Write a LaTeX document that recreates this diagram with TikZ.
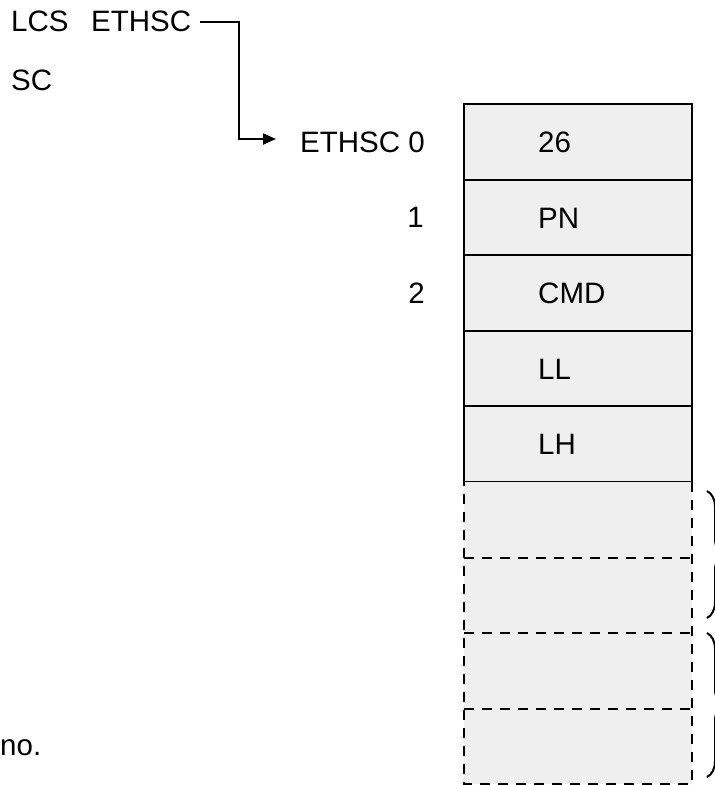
\documentclass[tikz,border=0pt]{standalone}
\usepackage{fontspec}
\setmainfont{Liberation Sans}
\usetikzlibrary{arrows.meta,decorations.pathreplacing}
\definecolor{cellfill}{HTML}{EFEFEF}
\begin{document}
\begin{tikzpicture}[x=1pt,y=-1pt,
  lbl/.style={font=\fontsize{29.5}{34}\selectfont, inner sep=0pt},
  cell/.style={fill=cellfill, draw=black, line width=2pt},
  dcell/.style={draw=black, line width=2pt, dash pattern=on 10pt off 8pt},
  conn/.style={draw=black, line width=2pt, -{Triangle[length=13pt,width=11pt]}},
  brc/.style={draw=black, line width=2pt, decorate, decoration={brace, amplitude=16pt}}]
\useasboundingbox (0,0) rectangle (715,785);
% solid cells
\foreach \t/\b in {104/180,180/255,255/331,331/406,406/482}{
  \draw[cell] (464,\t) rectangle (692,\b);
}
% dashed cells
\fill[cellfill] (464,482) rectangle (692,784);
\draw[dcell] (692,482) -- (692,784) -- (464,784) -- (464,482);
\foreach \y in {558,633,709}{
  \draw[dcell] (464,\y) -- (692,\y);
}
% box labels
\node[lbl,anchor=base west] (v26) at (538,152) {26};
\node[lbl,anchor=base west] (vpn) at (538,228) {PN};
\node[lbl,anchor=base west] (vcmd) at (538,303) {CMD};
\node[lbl,anchor=base west] (vll) at (538,379) {LL};
\node[lbl,anchor=base west] (vlh) at (538,454) {LH};
% left labels
\node[lbl,anchor=base west] (lcs) at (11,31) {LCS};
\node[lbl,anchor=base west] (etop) at (91,31) {ETHSC};
\node[lbl,anchor=base west] (sc) at (11,90) {SC};
\node[lbl,anchor=base east] (e0) at (425,152) {ETHSC 0};
\node[lbl,anchor=base east] (i1) at (424,227) {1};
\node[lbl,anchor=base east] (i2) at (425,303) {2};
\node[lbl,anchor=base west] (no) at (0,755) {no.};
% connector
\coordinate (cstart) at (200,22);
\coordinate (ctip) at (276,139);
\draw[conn] (cstart) -- (239,22) |- (ctip);
% braces
\draw[brc] (707,491) -- (707,618);
\draw[brc] (707,633) -- (707,777);
\end{tikzpicture}
\end{document}
